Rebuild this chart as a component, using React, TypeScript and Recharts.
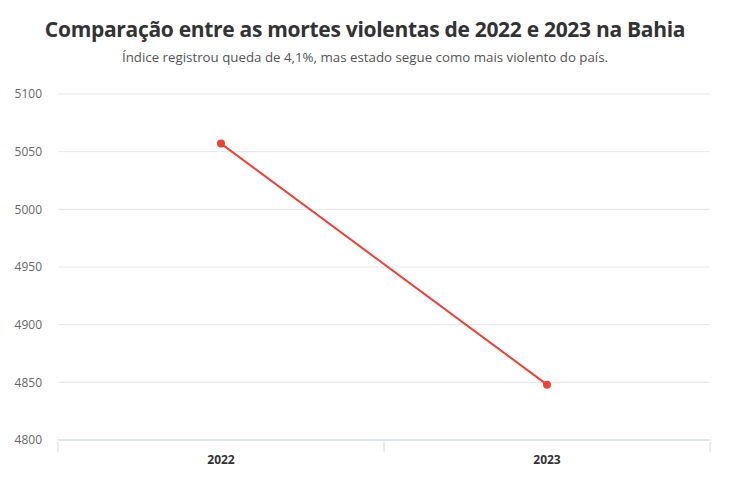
import { CartesianGrid, Line, LineChart, XAxis, YAxis } from 'recharts';

document.body.style.margin = '0';

const years = ['2022', '2023'];
const deaths = [5057, 4848];
const yTicks = [4800, 4850, 4900, 4950, 5000, 5050, 5100];

const chartData = years.map((year, i) => ({ year, mortes: deaths[i] }));

const WIDTH = 730;
const HEIGHT = 485;
const MARGIN = { top: 94, right: 20, left: 0, bottom: 15 };
const Y_AXIS_WIDTH = 58;
const PLOT_WIDTH = WIDTH - MARGIN.left - MARGIN.right - Y_AXIS_WIDTH;
const HALF_BAND = PLOT_WIDTH / years.length / 2;
const FONT = '"Open Sans", sans-serif';

function YearTick(props: any) {
  const { x, y, payload, index } = props;
  return (
    <g>
      {index === 0 && <line x1={x - HALF_BAND} x2={x - HALF_BAND} y1={y} y2={y + 10} stroke="#ccd6eb" />}
      <line x1={x + HALF_BAND} x2={x + HALF_BAND} y1={y} y2={y + 10} stroke="#ccd6eb" />
      <text
        x={x}
        y={y + 22}
        textAnchor="middle"
        fontFamily={FONT}
        fontSize={12}
        fontWeight={700}
        fill="#333333"
      >
        {payload.value}
      </text>
    </g>
  );
}

export default function App() {
  return (
    <div style={{ position: 'relative', width: WIDTH, height: HEIGHT, background: '#fff', fontFamily: FONT }}>
      <div
        style={{
          position: 'absolute',
          top: 15,
          left: 0,
          width: WIDTH,
          textAlign: 'center',
          fontSize: 21,
          fontWeight: 700,
          color: '#333333',
          letterSpacing: -0.3,
        }}
      >
        Comparação entre as mortes violentas de 2022 e 2023 na Bahia
      </div>
      <div
        style={{
          position: 'absolute',
          top: 48,
          left: 0,
          width: WIDTH,
          textAlign: 'center',
          fontSize: 13.3,
          color: '#555555',
        }}
      >
        Índice registrou queda de 4,1%, mas estado segue como mais violento do país.
      </div>
      <div style={{ position: 'absolute', top: 0, left: 0 }}>
        <LineChart width={WIDTH} height={HEIGHT} data={chartData} margin={MARGIN}>
          <CartesianGrid vertical={false} stroke="#e6e6e6" />
          <XAxis
            dataKey="year"
            height={30}
            padding={{ left: HALF_BAND, right: HALF_BAND }}
            axisLine={{ stroke: '#ccd6eb' }}
            tickLine={false}
            tickSize={0}
            tick={<YearTick />}
            interval={0}
          />
          <YAxis
            domain={[4800, 5100]}
            ticks={yTicks}
            width={Y_AXIS_WIDTH}
            axisLine={false}
            tickLine={false}
            tickSize={0}
            tickMargin={16}
            tick={{ fontSize: 12, fill: '#666666', fontFamily: FONT }}
          />
          <Line
            dataKey="mortes"
            stroke="#ef4136"
            strokeWidth={2}
            dot={{ r: 4, fill: '#ef4136', stroke: '#ef4136', strokeWidth: 0 }}
            isAnimationActive={false}
          />
        </LineChart>
      </div>
    </div>
  );
}
